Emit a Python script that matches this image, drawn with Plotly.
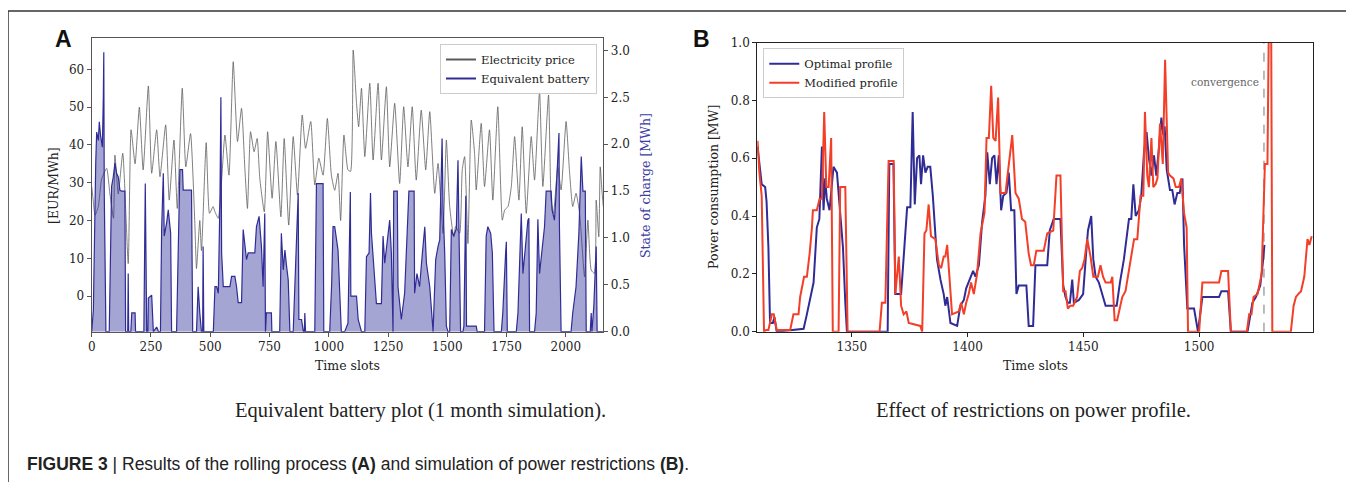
import plotly.graph_objects as go

# ---------------- Panel A data ----------------
price_slots = [0, 7, 14, 28, 42, 63, 77, 92, 98, 112, 131, 154, 166, 183, 201, 217, 239, 253, 274, 288,
               312, 327, 347, 361, 382, 397, 417, 435, 442, 456, 463, 483, 497, 512, 520, 534, 562, 579, 597, 615,
               632, 646, 657, 670, 685, 698, 709, 728, 742, 761, 777, 798, 812, 831, 850, 868, 888, 902, 924, 941,
               958, 976, 994, 1011, 1025, 1039, 1050, 1064, 1081, 1092, 1103, 1117, 1126, 1138, 1152, 1173, 1187, 1208, 1222, 1243,
               1257, 1278, 1299, 1316, 1334, 1352, 1369, 1390, 1409, 1426, 1447, 1461, 1482, 1496, 1510, 1527, 1535, 1552, 1563, 1573,
               1587, 1601, 1615, 1622, 1643, 1657, 1678, 1692, 1713, 1732, 1742, 1756, 1770, 1784, 1802, 1816, 1833, 1854, 1868, 1889,
               1903, 1927, 1938, 1948, 1966, 1980, 2001, 2015, 2029, 2043, 2058, 2079, 2093, 2107, 2121, 2128, 2139, 2145, 2152, 2158]
price_values = [29, 25, 21.4, 23.7, 31, 33.8, 27, 20.6, 37.3, 27, 37.8, 8.6, 44, 35, 50, 33.4, 55.6, 32.5, 44, 31.6,
                45.3, 25.4, 41.3, 23.2, 55, 34.2, 43, 19.2, 7.3, 20, 12, 40.6, 21.9, 23.7, 22.3, 20.6, 42.6, 32, 62, 40.9,
                49.7, 33.8, 23.2, 43.5, 38.2, 41.7, 31.2, 22.3, 43.5, 25.9, 40.9, 21, 41.7, 18.8, 42.2, 26.7, 47.9, 39.1, 46.2, 29.4,
                36.5, 32, 47, 32, 28, 32.5, 20, 42.6, 33.4, 33, 65.1, 51, 44.8, 55, 36.9, 56.3, 36, 56.3, 36, 55.4,
                34.2, 51, 29.8, 50.1, 34.2, 50.1, 30.7, 49.2, 33.4, 48.8, 27.2, 35.1, 16.6, 41.3, 23.7, 15.7, 18.4, 16.6, 33.4, 36.9,
                13.9, 46.6, 37.8, 28.1, 45.7, 29, 44, 25.4, 50.1, 20.1, 22.8, 23.7, 29, 42.2, 25.4, 44.8, 21.9, 42.2, 30.7, 54.1,
                29, 53.2, 25.4, 21.9, 34.2, 28.1, 46.2, 33.4, 23.7, 27.2, 21.9, 5.1, 20.1, 6.9, 6, 25.4, 15.7, 34.2, 28.1, 23.7]

soc_slots = [0, 7, 17, 21, 28, 32, 38, 45, 49, 51, 53, 56, 60, 74, 84, 91, 98, 105, 112, 119,
             126, 140, 143, 152, 154, 156, 165, 169, 183, 185, 220, 226, 232, 237, 239, 253, 260, 274, 282, 290,
             295, 302, 306, 316, 323, 333, 337, 358, 365, 372, 383, 386, 421, 426, 442, 449, 456, 463, 468, 470,
             473, 513, 520, 527, 534, 541, 545, 548, 555, 583, 590, 604, 611, 618, 632, 639, 653, 660, 688, 695,
             706, 716, 723, 730, 733, 737, 758, 760, 793, 800, 808, 815, 822, 829, 836, 850, 871, 874, 885, 893,
             897, 899, 902, 941, 948, 976, 979, 1004, 1012, 1018, 1025, 1032, 1039, 1053, 1067, 1081, 1091, 1093, 1117, 1124,
             1138, 1152, 1159, 1170, 1176, 1180, 1190, 1201, 1222, 1229, 1236, 1250, 1257, 1264, 1271, 1274, 1289, 1292, 1306, 1320,
             1330, 1338, 1360, 1362, 1372, 1383, 1395, 1405, 1412, 1426, 1440, 1451, 1461, 1468, 1478, 1482, 1489, 1496, 1503, 1510,
             1517, 1527, 1538, 1545, 1549, 1556, 1566, 1570, 1578, 1581, 1622, 1626, 1657, 1664, 1671, 1683, 1690, 1697, 1728, 1734,
             1746, 1749, 1753, 1791, 1798, 1812, 1819, 1826, 1840, 1844, 1847, 1868, 1875, 1882, 1889, 1910, 1917, 1938, 1942, 1952,
             1959, 1971, 1973, 1980, 2022, 2029, 2043, 2055, 2060, 2065, 2072, 2082, 2086, 2103, 2107, 2110, 2118, 2128, 2132, 2156]
soc_values = [0, 0.23, 1.8, 2.13, 2.04, 2.24, 2.08, 1.97, 2.5, 2.98, 1.48, 0.84, 0, 0, 1.55, 1.65, 1.8, 1.69, 1.65, 1.51,
              1.5, 1.5, 0, 0, 0.62, 0, 0, 0.2, 0.2, 0, 0, 1.58, 0, 0, 0.36, 0.39, 0, 0.05, 0, 0,
              1.09, 1.69, 1.02, 1.16, 1.3, 1.05, 0, 0, 0.84, 1.73, 1.73, 1.51, 1.51, 0, 0, 0.48, 0.2, 0, 0, 0.91,
              0, 0, 0.48, 0.48, 0.41, 1.42, 2.5, 0.84, 0.48, 0.48, 0.59, 0.59, 0.48, 0.31, 0.31, 1.09, 0.77, 0.84, 0.84, 1.12,
              1.23, 0.91, 0.48, 1.26, 0, 0.2, 0.2, 0, 0, 1.05, 0.66, 0.87, 0.7, 0.55, 0, 0, 1.48, 0.13, 0.13, 0,
              0, 0.2, 0, 0, 1.58, 1.58, 0, 0, 0.5, 1.12, 1.12, 0.98, 0.87, 0, 0, 0.09, 1.49, 0.38, 0.38, 0.13,
              0, 0, 0.8, 0.84, 1.48, 1.05, 0.66, 0.3, 0.3, 1.02, 0.73, 1.05, 1.19, 0.84, 0, 1.5, 1.5, 0.48, 0.13, 0.41,
              1.02, 1.5, 1.5, 0.41, 0.62, 0.48, 0.84, 1.12, 0.73, 0.48, 0, 0.77, 0.91, 0.98, 2.06, 1.33, 0.84, 0.06, 0, 0,
              1.09, 1.02, 1.1, 1.83, 1.12, 0, 0, 0.06, 1.45, 0.06, 0.06, 0, 0, 1.02, 1.12, 1.05, 0.84, 0, 0, 0.2,
              0.84, 0.96, 0, 0, 0.2, 1.26, 0.62, 0.84, 1.19, 1.21, 0, 0, 0.2, 1.2, 0.62, 1.12, 1.5, 1.5, 1.3, 1.19,
              1.48, 2.12, 1.12, 0, 0, 0.2, 0.48, 1.05, 1.58, 1.87, 1.5, 1.5, 0, 0, 0.2, 0, 0.27, 0.91, 0, 0]

price_ticks = [0, 10, 20, 30, 40, 50, 60]
soc_ticks = [0.0, 0.5, 1.0, 1.5, 2.0, 2.5, 3.0]
slot_ticks_a = [0, 250, 500, 750, 1000, 1250, 1500, 1750, 2000]

# ---------------- Panel B data ----------------
opt_slots = [1309.3, 1310.4, 1311.1, 1312.6, 1313.2, 1314.0, 1314.7, 1315.9, 1316.6, 1317.6, 1324.8, 1329.2, 1330.6, 1332.0, 1333.5,
             1334.9, 1336.0, 1337.1, 1337.8, 1338.5, 1339.2, 1340.4, 1341.4, 1342.1, 1343.6, 1344.7, 1346.2, 1347.2, 1347.9, 1365.5,
             1366.2, 1368.0, 1368.8, 1371.3, 1372.4, 1373.9, 1375.3, 1376.3, 1377.2, 1378.2, 1379.2, 1379.9, 1380.8, 1381.8, 1382.8,
             1383.9, 1385.0, 1385.8, 1386.8, 1388.3, 1389.7, 1390.4, 1391.2, 1392.6, 1395.5, 1396.9, 1398.4, 1399.4, 1401.3, 1402.4,
             1403.4, 1404.9, 1406.3, 1407.7, 1408.5, 1409.6, 1410.6, 1411.6, 1412.5, 1413.5, 1414.5, 1415.4, 1416.8, 1417.8, 1418.8,
             1420.2, 1421.1, 1422.1, 1425.4, 1426.4, 1428.3, 1429.3, 1434.4, 1435.5, 1437.2, 1440.1, 1441.3, 1442.3, 1443.3, 1444.2,
             1445.2, 1445.9, 1448.1, 1449.9, 1451.0, 1452.0, 1453.4, 1454.3, 1455.3, 1456.7, 1459.6, 1464.4, 1465.8, 1467.5, 1469.7,
             1470.7, 1471.6, 1472.6, 1474.0, 1475.0, 1476.2, 1477.3, 1478.3, 1479.4, 1480.5, 1481.5, 1482.7, 1483.7, 1484.5, 1485.1,
             1486.0, 1487.4, 1488.4, 1489.4, 1490.6, 1491.6, 1492.8, 1493.5, 1494.9, 1497.8, 1499.5, 1501.4, 1508.6, 1509.6, 1512.5,
             1513.7, 1520.9, 1522.0, 1523.0, 1524.5, 1526.4, 1527.4, 1528.2]
opt_values = [0.64, 0.55, 0.51, 0.50, 0.45, 0.29, 0.03, 0.03, 0.05, 0.0, 0.006, 0.01, 0.06, 0.11, 0.17,
              0.36, 0.39, 0.64, 0.42, 0.53, 0.46, 0.42, 0.50, 0.57, 0.55, 0.43, 0.29, 0.10, 0.0, 0.0,
              0.58, 0.58, 0.13, 0.13, 0.27, 0.43, 0.43, 0.76, 0.44, 0.60, 0.61, 0.51, 0.61, 0.55, 0.57,
              0.57, 0.47, 0.36, 0.25, 0.18, 0.13, 0.09, 0.12, 0.03, 0.02, 0.09, 0.11, 0.15, 0.19, 0.21,
              0.19, 0.23, 0.38, 0.47, 0.62, 0.51, 0.60, 0.61, 0.51, 0.61, 0.42, 0.47, 0.48, 0.55, 0.42,
              0.42, 0.13, 0.16, 0.16, 0.02, 0.02, 0.23, 0.23, 0.35, 0.39, 0.39, 0.16, 0.12, 0.10, 0.10,
              0.18, 0.10, 0.11, 0.13, 0.25, 0.35, 0.40, 0.25, 0.19, 0.17, 0.09, 0.09, 0.17, 0.25, 0.39,
              0.39, 0.51, 0.40, 0.42, 0.47, 0.62, 0.69, 0.60, 0.54, 0.61, 0.54, 0.64, 0.74, 0.68, 0.71,
              0.56, 0.49, 0.49, 0.44, 0.48, 0.48, 0.53, 0.30, 0.08, 0.08, 0.0, 0.12, 0.12, 0.14, 0.14,
              0.0, 0.0, 0.06, 0.10, 0.12, 0.16, 0.23, 0.30]

mod_slots = [1309.3, 1310.1, 1311.1, 1312.1, 1313.0, 1314.0, 1315.5, 1316.3, 1317.6, 1323.4, 1324.8, 1327.0, 1327.7, 1329.4, 1330.6,
             1331.8, 1332.8, 1333.2, 1334.9, 1336.1, 1337.1, 1338.1, 1339.0, 1340.0, 1341.1, 1341.8, 1344.3, 1345.0, 1347.2, 1348.2,
             1362.0, 1363.0, 1364.5, 1365.9, 1368.1, 1368.8, 1370.3, 1371.3, 1372.4, 1373.6, 1374.6, 1379.6, 1380.4, 1381.4, 1382.2,
             1383.2, 1384.2, 1386.1, 1387.6, 1388.6, 1389.7, 1390.4, 1391.2, 1392.3, 1393.3, 1396.2, 1397.2, 1398.4, 1399.4, 1400.5,
             1401.5, 1402.7, 1404.1, 1405.6, 1407.3, 1408.2, 1409.2, 1410.2, 1411.1, 1412.1, 1413.2, 1414.2, 1416.4, 1417.4, 1419.3,
             1420.7, 1422.1, 1423.5, 1424.9, 1426.4, 1427.4, 1428.6, 1429.7, 1432.9, 1434.4, 1437.0, 1438.4, 1440.1, 1441.3, 1442.3,
             1443.3, 1444.4, 1445.6, 1447.3, 1448.5, 1449.5, 1450.5, 1451.7, 1453.1, 1454.3, 1456.3, 1457.4, 1458.5, 1459.6, 1461.8,
             1462.5, 1463.5, 1464.6, 1465.8, 1466.8, 1468.2, 1469.3, 1470.4, 1471.9, 1473.3, 1474.0, 1474.7, 1475.9, 1476.6, 1477.6,
             1478.3, 1479.4, 1480.2, 1481.2, 1482.0, 1483.1, 1484.3, 1485.3, 1486.0, 1486.6, 1487.4, 1488.9, 1489.9, 1491.3, 1492.3,
             1493.5, 1494.6, 1495.2, 1500.0, 1501.4, 1508.6, 1509.6, 1512.5, 1513.7, 1520.6, 1521.6, 1522.6, 1523.5, 1525.2, 1527.0,
             1528.4, 1529.5, 1530.4, 1531.0, 1531.6, 1539.6, 1540.8, 1541.8, 1542.8, 1544.0, 1545.4, 1546.8, 1547.6, 1548.6]
mod_values = [0.66, 0.55, 0.47, 0.0, 0.006, 0.006, 0.06, 0.06, 0.006, 0.006, 0.06, 0.06, 0.12, 0.19, 0.19,
              0.27, 0.36, 0.42, 0.42, 0.46, 0.46, 0.76, 0.50, 0.50, 0.67, 0.0, 0.0, 0.50, 0.50, 0.0,
              0.0, 0.10, 0.10, 0.59, 0.59, 0.13, 0.26, 0.09, 0.06, 0.07, 0.03, 0.02, 0.0, 0.34, 0.35,
              0.44, 0.33, 0.32, 0.23, 0.22, 0.26, 0.26, 0.30, 0.19, 0.06, 0.07, 0.10, 0.06, 0.10, 0.13,
              0.17, 0.13, 0.20, 0.34, 0.41, 0.67, 0.67, 0.85, 0.67, 0.66, 0.81, 0.48, 0.48, 0.55, 0.68,
              0.48, 0.46, 0.39, 0.38, 0.27, 0.23, 0.23, 0.28, 0.28, 0.34, 0.35, 0.54, 0.54, 0.14, 0.14,
              0.08, 0.09, 0.09, 0.12, 0.21, 0.22, 0.25, 0.32, 0.26, 0.19, 0.19, 0.23, 0.19, 0.17, 0.17,
              0.19, 0.04, 0.04, 0.08, 0.12, 0.14, 0.19, 0.24, 0.32, 0.32, 0.39, 0.47, 0.47, 0.76, 0.54,
              0.50, 0.67, 0.50, 0.51, 0.53, 0.72, 0.58, 0.94, 0.73, 0.55, 0.54, 0.53, 0.50, 0.50, 0.53,
              0.41, 0.36, 0.0, 0.0, 0.17, 0.17, 0.21, 0.21, 0.0, 0.0, 0.06, 0.06, 0.12, 0.13, 0.20,
              0.58, 0.58, 1.30, 1.30, 0.0, 0.0, 0.09, 0.12, 0.13, 0.14, 0.19, 0.32, 0.30, 0.33]

power_ticks = [0.0, 0.2, 0.4, 0.6, 0.8, 1.0]
slot_ticks_b = [1350, 1400, 1450, 1500]
convergence_slot = 1528

# ---------------- figure ----------------
W, H = 1354, 482
OFF = 8  # page body margin: the figure is drawn 8px right / 8px down in the window
SERIF = "DejaVu Serif"
NAVY = "rgb(48,44,150)"
RED = "rgb(243,62,40)"


def px(x):
    return (x - OFF) / W


def py(y):
    return 1 - (y - OFF) / H


fig = go.Figure()

fig.add_trace(go.Scatter(x=price_slots, y=price_values, mode="lines",
                         line=dict(color="rgba(95,95,95,0.8)", width=1, shape="spline", smoothing=0.5),
                         xaxis="x", yaxis="y", showlegend=False, hoverinfo="skip"))
fig.add_trace(go.Scatter(x=soc_slots, y=soc_values, mode="lines", fill="tozeroy",
                         fillcolor="rgba(40,40,150,0.42)",
                         line=dict(color=NAVY, width=1.2),
                         xaxis="x", yaxis="y2", showlegend=False, hoverinfo="skip"))
fig.add_trace(go.Scatter(x=[None], y=[None], mode="lines", name="Electricity price",
                         line=dict(color="rgb(90,90,90)", width=2), xaxis="x", yaxis="y", legend="legend"))
fig.add_trace(go.Scatter(x=[None], y=[None], mode="lines", name="Equivalent battery",
                         line=dict(color=NAVY, width=2), xaxis="x", yaxis="y", legend="legend"))

fig.add_trace(go.Scatter(x=opt_slots, y=opt_values, mode="lines", name="Optimal profile",
                         line=dict(color=NAVY, width=2), xaxis="x2", yaxis="y3", legend="legend2"))
fig.add_trace(go.Scatter(x=mod_slots, y=mod_values, mode="lines", name="Modified profile",
                         line=dict(color=RED, width=2), xaxis="x2", yaxis="y3", legend="legend2"))

tickfont = dict(family=SERIF, size=12, color="#222")
dom_ax = [px(91.7), px(603.3)]
dom_bx = [px(757.3), px(1313.3)]
common = dict(showgrid=False, zeroline=False, showline=True, linewidth=1.2, automargin=False,
              ticks="outside", ticklen=4, tickfont=tickfont)

fig.update_layout(
    template="none",
    width=W, height=H, margin=dict(l=0, r=0, t=0, b=0, pad=0, autoexpand=False),
    paper_bgcolor="white", plot_bgcolor="white",
    xaxis=dict(domain=dom_ax, anchor="y", range=[0, 2158], tickvals=slot_ticks_a, mirror=True,
               linecolor="#555", tickcolor="#555", **common),
    yaxis=dict(domain=[py(331.7), py(38.3)], anchor="x", range=[-9.4, 68.2], tickvals=price_ticks,
               linecolor="#555", tickcolor="#555", **common),
    yaxis2=dict(overlaying="y", side="right", anchor="x", range=[0, 3.13], tickvals=soc_ticks,
                tickformat=".1f", linecolor="#555", tickcolor="#555", **common),
    xaxis2=dict(domain=dom_bx, anchor="y3", range=[1309.2, 1549.3], tickvals=slot_ticks_b, mirror=True,
                linecolor="#222", tickcolor="#222", **common),
    yaxis3=dict(domain=[py(331.7), py(42.5)], anchor="x2", range=[0, 1.0], tickvals=power_ticks,
                tickformat=".1f", mirror=True, linecolor="#222", tickcolor="#222", **common),
    legend=dict(x=px(597), y=py(44), xanchor="right", yanchor="top",
                bgcolor="rgba(255,255,255,0.85)", bordercolor="#cccccc", borderwidth=1,
                font=dict(family=SERIF, size=11.5, color="#222"), tracegroupgap=0, itemwidth=30),
    legend2=dict(x=px(763.3), y=py(48.3), xanchor="left", yanchor="top",
                 bgcolor="rgba(255,255,255,0.85)", bordercolor="#cccccc", borderwidth=1,
                 font=dict(family=SERIF, size=11.5, color="#222"), tracegroupgap=0, itemwidth=30),
    showlegend=True,
)

# convergence marker
fig.add_shape(type="line", xref="x2", yref="y3", x0=convergence_slot, x1=convergence_slot, y0=0, y1=1,
              line=dict(color="#777", width=1, dash="dash"), layer="below")
fig.add_annotation(xref="x2", yref="y3", x=convergence_slot, y=0.865, text="convergence",
                   showarrow=False, xanchor="right", yanchor="middle", xshift=-3,
                   font=dict(family=SERIF, size=10.5, color="#666"))

# outer frame
for (x0, y0, x1, y1) in [(8, 11, 8, 500), (8, 11, 1351.5, 11), (1351.5, 11, 1351.5, 500)]:
    fig.add_shape(type="line", xref="paper", yref="paper", x0=px(x0), y0=py(y0), x1=px(x1), y1=py(y1),
                  line=dict(color="#333", width=1.5))


def note(x, y, text, font, angle=0, xanchor="center"):
    fig.add_annotation(x=px(x), y=py(y), xref="paper", yref="paper", text=text, showarrow=False,
                       xanchor=xanchor, yanchor="middle", textangle=angle, font=font)


axfont = dict(family=SERIF, size=12.5, color="#222")
note(53, 186, "[EUR/MWh]", axfont, angle=-90)
note(645, 186, "State of charge [MWh]", dict(family=SERIF, size=12.5, color="rgb(60,60,165)"), angle=-90)
note(713, 187, "Power consumption [MW]", axfont, angle=-90)
note(347, 365, "Time slots", axfont)
note(1035.5, 365, "Time slots", axfont)

note(63.5, 38.5, "<b>A</b>", dict(family="Liberation Sans", size=23, color="#111"))
note(701, 38.5, "<b>B</b>", dict(family="Liberation Sans", size=23, color="#111"))

capfont = dict(family="Liberation Serif", size=20.5, color="#222")
note(420, 410, "Equivalent battery plot (1 month simulation).", capfont)
note(1033, 410, "Effect of restrictions on power profile.", capfont)

note(25, 463.5,
     "<b>FIGURE 3</b> | Results of the rolling process <b>(A)</b> and simulation of power restrictions <b>(B)</b>.",
     dict(family="Liberation Sans", size=17.5, color="#222"), xanchor="left")

fig.write_html("out.html")
